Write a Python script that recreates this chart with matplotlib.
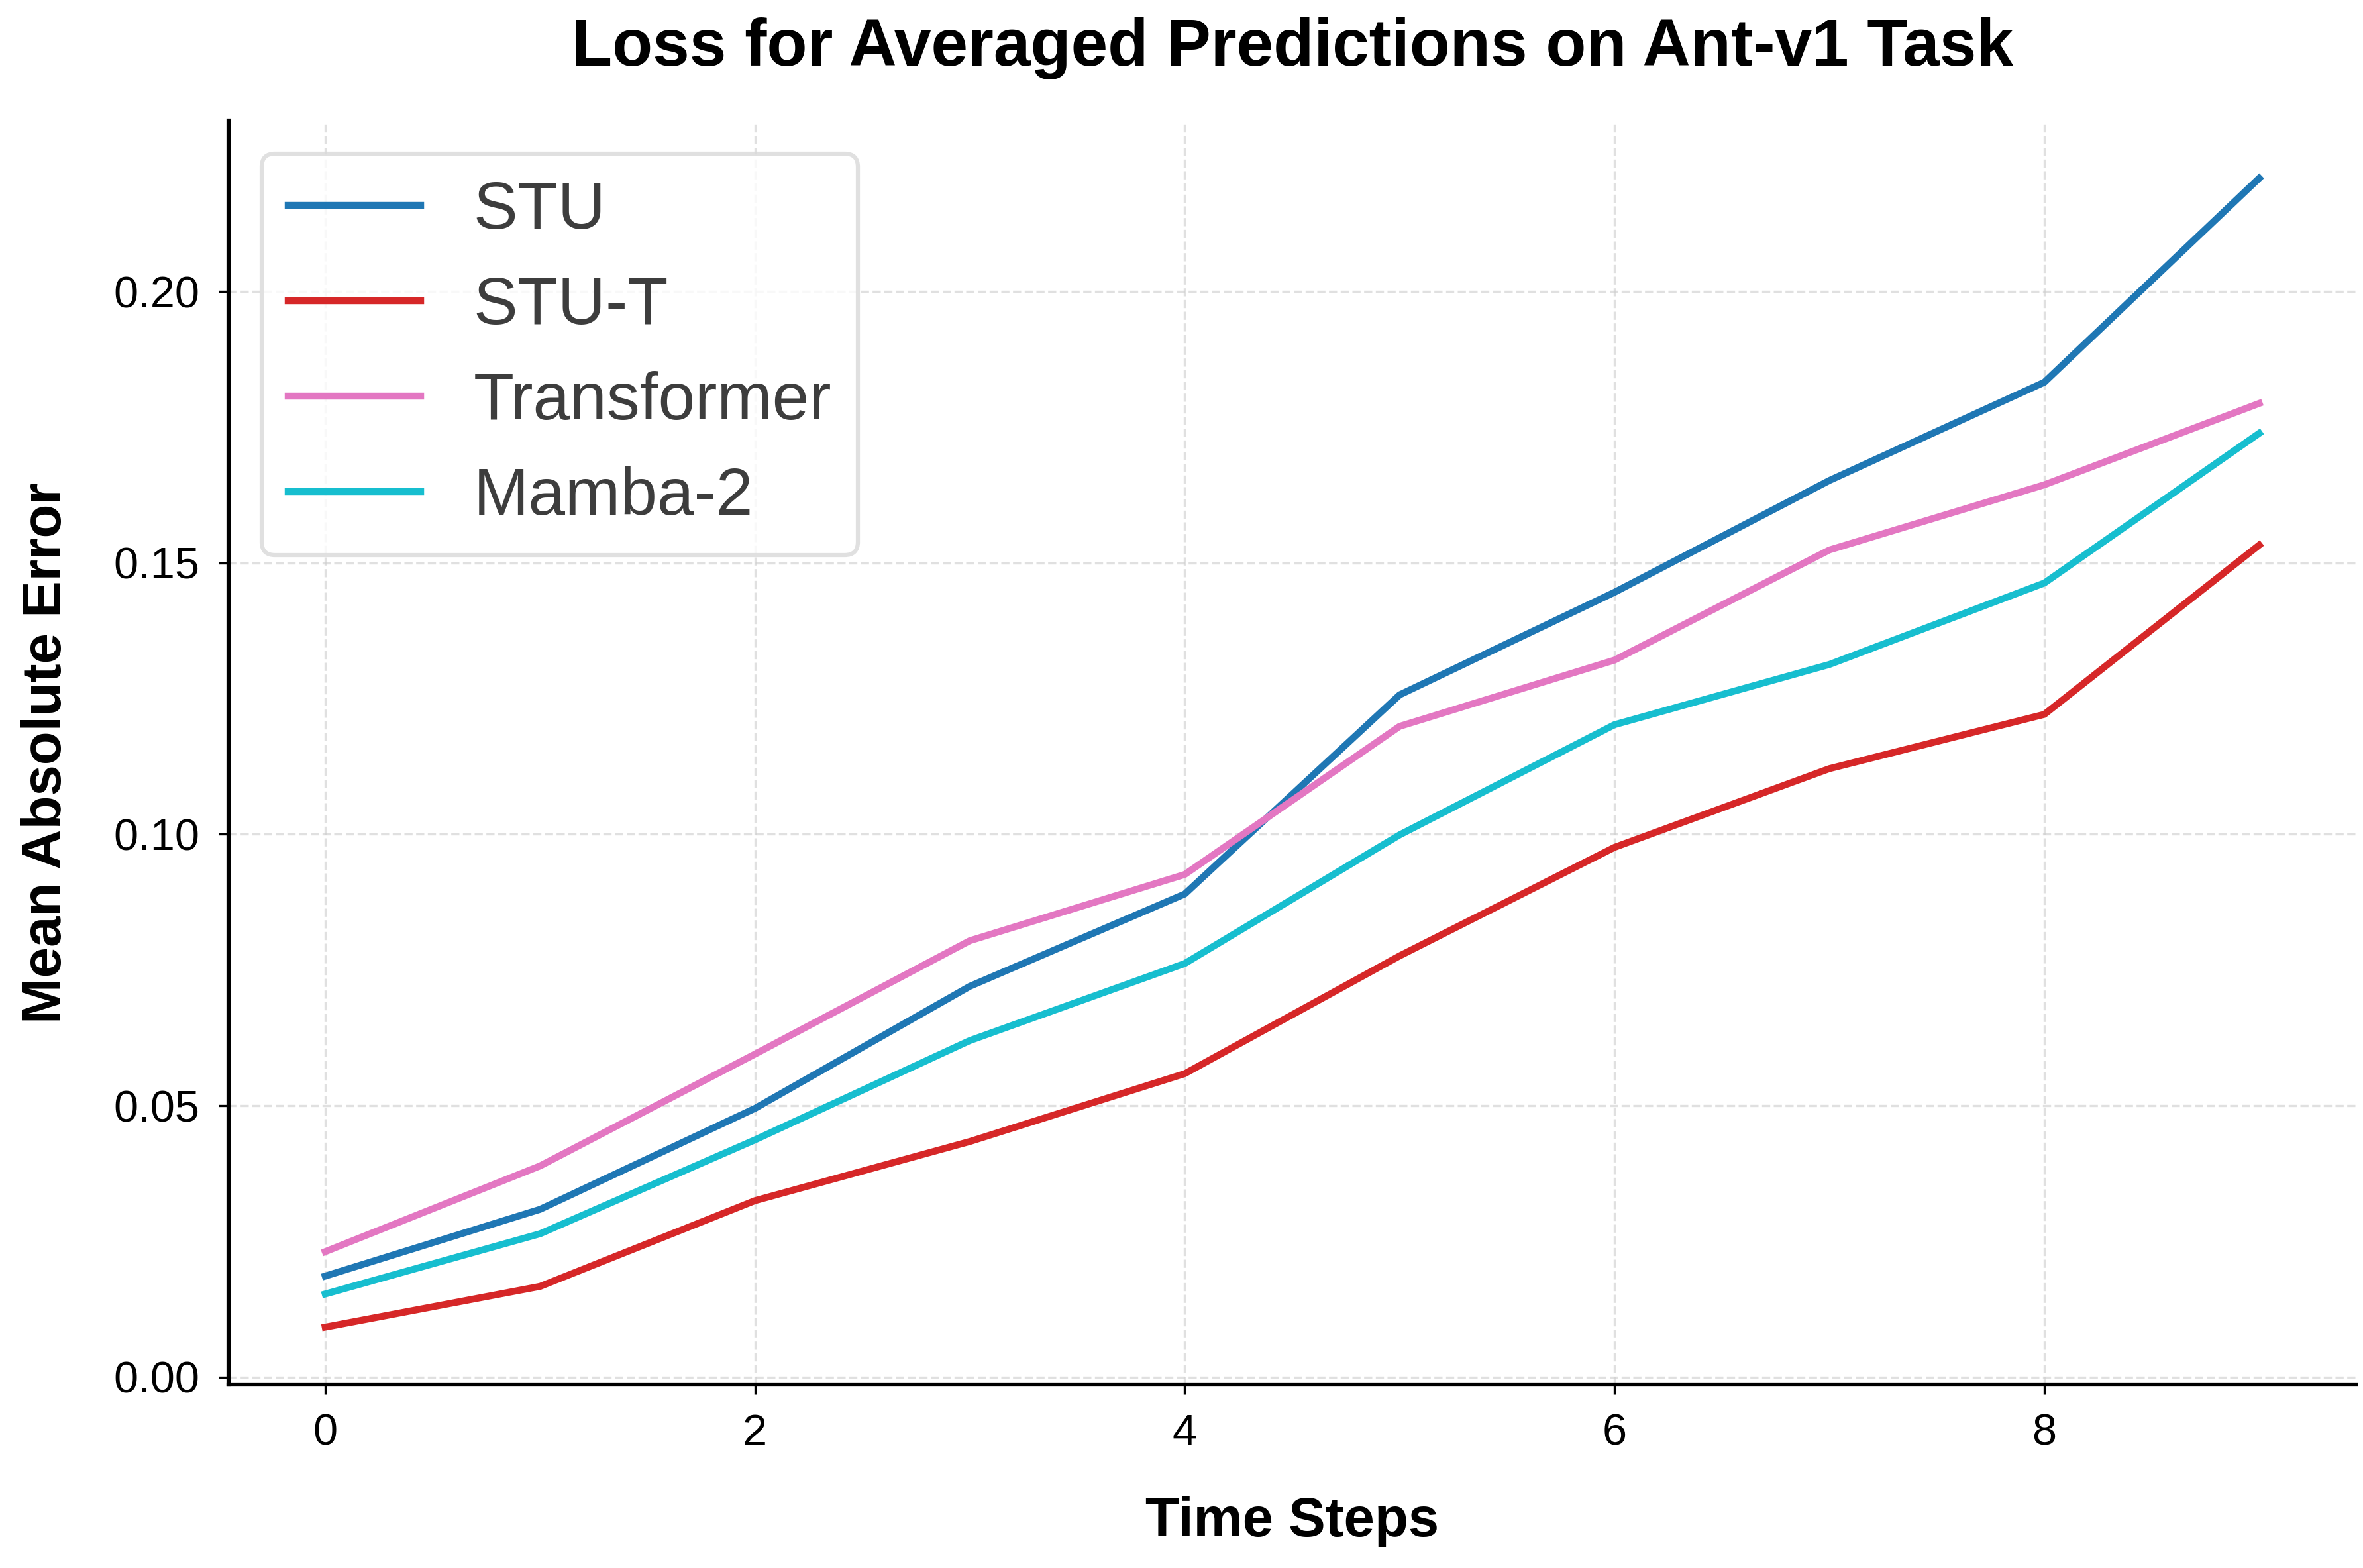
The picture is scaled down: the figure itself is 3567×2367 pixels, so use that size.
import matplotlib
matplotlib.use("Agg")
import matplotlib.pyplot as plt

plt.rcParams['font.family'] = ['Liberation Sans', 'DejaVu Sans']

steps = list(range(10))
stu = [0.0186, 0.0309, 0.0495, 0.0720, 0.0890, 0.1257, 0.1446, 0.1652, 0.1833, 0.2209]
stu_t = [0.0092, 0.0167, 0.0325, 0.0434, 0.0559, 0.0776, 0.0976, 0.1121, 0.1221, 0.1533]
transformer = [0.0231, 0.0389, 0.0595, 0.0804, 0.0926, 0.1199, 0.1321, 0.1524, 0.1644, 0.1794]
mamba2 = [0.0153, 0.0264, 0.0437, 0.0620, 0.0762, 0.0999, 0.1202, 0.1313, 0.1463, 0.1739]

labels = ["STU", "STU-T", "Transformer", "Mamba-2"]
colors = ["#1f77b4", "#d62728", "#e377c2", "#17becf"]

fig = plt.figure(figsize=(11.89, 7.89), dpi=300)
ax = fig.add_axes([0.0967, 0.117, 0.9003, 0.806])

for ys, lab, c in zip([stu, stu_t, transformer, mamba2], labels, colors):
    ax.plot(steps, ys, color=c, lw=2.5, label=lab)

ax.set_title("Loss for Averaged Predictions on Ant-v1 Task", fontsize=24, fontweight='bold', pad=20)
ax.set_xlabel("Time Steps", fontsize=20, fontweight='bold', labelpad=15)
ax.set_ylabel("Mean Absolute Error", fontsize=20, fontweight='bold', labelpad=15)
ax.tick_params(labelsize=16, pad=7)
ax.set_yticks([0.0, 0.05, 0.10, 0.15, 0.20])

ax.grid(True, linestyle='--', color='#cccccc', alpha=0.6, lw=0.8)
ax.spines['top'].set_visible(False)
ax.spines['right'].set_visible(False)
ax.spines['left'].set_linewidth(1.5)
ax.spines['bottom'].set_linewidth(1.5)

leg = ax.legend(fontsize=24, loc='upper left', frameon=True, fancybox=True, labelcolor='#3d3d3d')
leg.get_frame().set_edgecolor('#d9d9d9')
leg.get_frame().set_linewidth(1.5)

fig.savefig("out.png", dpi=300)
